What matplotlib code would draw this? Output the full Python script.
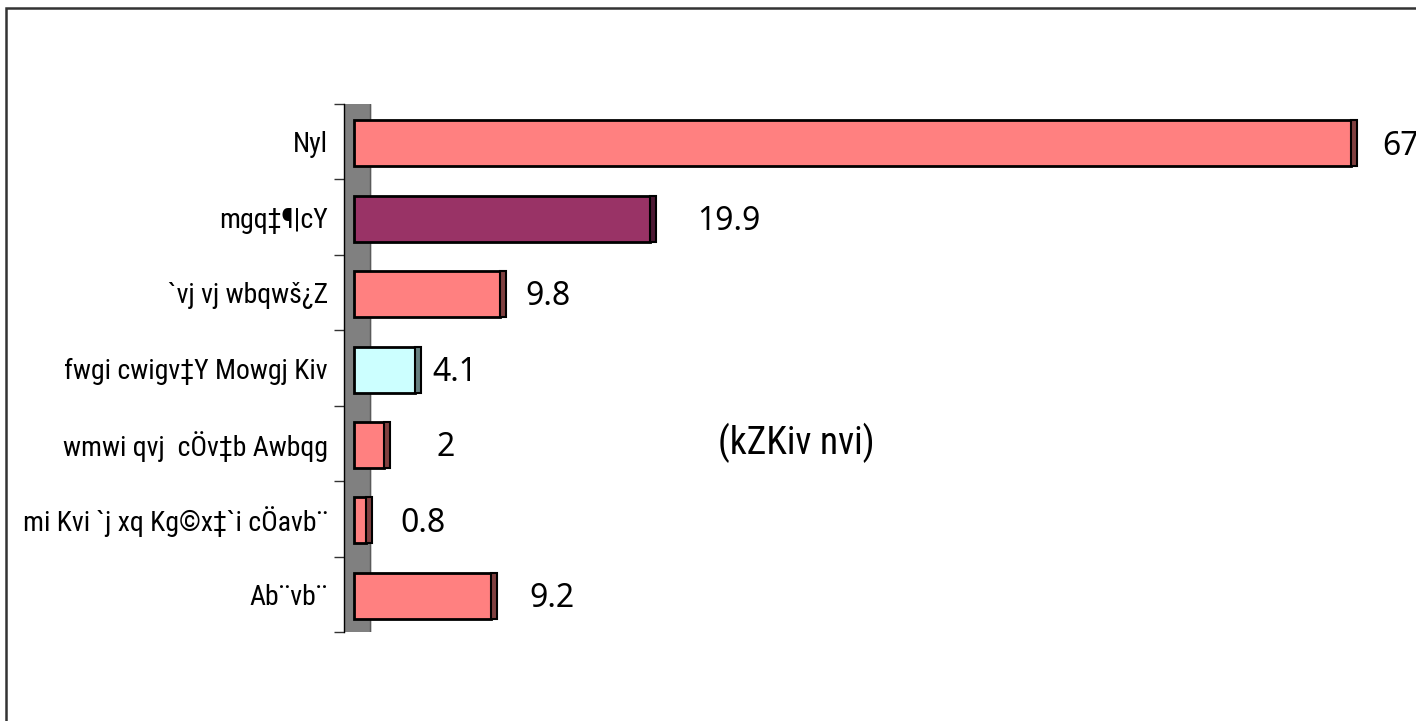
import matplotlib
matplotlib.use('Agg')
import matplotlib.pyplot as plt
from matplotlib import font_manager
from matplotlib.font_manager import FontProperties
from matplotlib.ft2font import FT2Font
from matplotlib.patches import Rectangle

# data (top to bottom)
categories = ['Nyl', 'mgq‡¶|cY', '`vj vj wbqwš¿Z', 'fwgi cwigv‡Y Mowgj Kiv',
              'wmwi qvj  cÖv‡b Awbqg', 'mi Kvi `j xq Kg©x‡`i cÖavb¨', 'Ab¨vb¨']
values = [67, 19.9, 9.8, 4.1, 2, 0.8, 9.2]
value_labels = ['67', '19.9', '9.8', '4.1', '2', '0.8', '9.2']
unit_label = '(kZKiv nvi)'

# styling
face_colors = ['#FF8080', '#993366', '#FF8080', '#CCFFFF', '#FF8080', '#FF8080', '#FF8080']
side_colors = ['#804040', '#4D1933', '#804040', '#668080', '#804040', '#804040', '#804040']
label_gap_px = [25, 41, 20, 11, 47, 28, 32]  # data labels were hand placed in the original

W, H = 1416, 721
fig = plt.figure(figsize=(W / 100, H / 100), dpi=100)
renderer = fig.canvas.get_renderer()

# plain sans families only, so no all-caps display faces sneak in
SANS = {'Liberation Sans Narrow', 'Liberation Sans', 'DejaVu Sans', 'Roboto', 'Roboto Condensed',
        'Open Sans', 'Open Sans Condensed', 'Noto Sans', 'Noto Sans Display', 'Lato', 'Inter'}


def text_width(s, prop, size):
    t = fig.text(0, 0, s, fontproperties=prop, fontsize=size)
    w = t.get_window_extent(renderer).width
    t.remove()
    return w


def pick_narrow_font(sample):
    """Narrowest regular sans face that has every glyph of the labels."""
    chars = set(''.join(categories) + unit_label) - {' '}
    best, best_w = FontProperties(family='DejaVu Sans'), None
    seen = set()
    for f in font_manager.fontManager.ttflist:
        if f.name not in SANS or f.style != 'normal' or f.weight not in (400, 'normal'):
            continue
        if f.fname in seen:
            continue
        seen.add(f.fname)
        try:
            ft = FT2Font(f.fname)
            if any(ft.get_char_index(ord(c)) == 0 for c in chars):
                continue
        except Exception:
            continue
        prop = FontProperties(fname=f.fname)
        w = text_width(sample, prop, 20)
        if best_w is None or w < best_w:
            best, best_w = prop, w
    return best


longest = max(categories, key=len)
narrow = pick_narrow_font(longest)

# shrink the category font until the longest label fits left of the axis (about 310 px)
cat_size = 20
while cat_size > 8 and text_width(longest, narrow, cat_size) > 312:
    cat_size -= 0.5

unit_size = 27
while unit_size > 8 and text_width(unit_label, narrow, unit_size) > 175:
    unit_size -= 0.5

px_per_unit = 14.88
ax_left, ax_top, ax_bottom = 344, 104, 632
ax = fig.add_axes([ax_left / W, 1 - ax_bottom / H, (W - ax_left) / W, (ax_bottom - ax_top) / H])
x0 = -(354 - ax_left) / px_per_unit
ax.set_xlim(x0, x0 + (W - ax_left) / px_per_unit)
n = len(categories)
ax.set_ylim(n - 0.5, -0.5)

# grey wall of the old 3d chart
wall_right = (370 - 354) / px_per_unit
ax.axvspan(x0, wall_right, color='#808080', zorder=0)
ax.axvline(wall_right, color='#5a5a5a', lw=1, zorder=0)

pos = [i + 0.02 for i in range(n)]
bar_h = 0.61
side_w = 6 / px_per_unit
ax.barh(pos, values, height=bar_h, color=face_colors, edgecolor='black', lw=2, zorder=3)
ax.barh(pos, [side_w] * n, left=values, height=bar_h, color=side_colors,
        edgecolor='black', lw=1.5, zorder=3)

for i in range(n):
    ax.annotate(value_labels[i], (values[i] + side_w, pos[i]),
                xytext=(label_gap_px[i] * 0.72, -2), textcoords='offset points',
                ha='left', va='center', fontsize=23, family='Noto Sans', annotation_clip=False)

# category ticks
ax.set_yticks([i - 0.5 for i in range(n + 1)])
ax.set_yticklabels([])
ax.tick_params(axis='y', which='major', length=7.2, width=1, color='#333333', direction='out')
ax.set_yticks(range(n), minor=True)
ax.set_yticklabels(categories, minor=True, fontproperties=narrow, fontsize=cat_size)
ax.tick_params(axis='y', which='minor', length=0, pad=11.5)

ax.xaxis.set_visible(False)
for s in ['top', 'right', 'bottom']:
    ax.spines[s].set_visible(False)
ax.spines['left'].set_color('black')
ax.spines['left'].set_linewidth(1)
ax.patch.set_visible(False)

fig.text(796 / W, 1 - 443 / H, unit_label, ha='center', va='center',
         fontproperties=narrow, fontsize=unit_size)

# outer chart frame, runs off the right and bottom of the image
fig.patches.append(Rectangle((6 / W, -0.2), 1.5, 1 - 8 / H + 0.2, transform=fig.transFigure,
                             fill=False, edgecolor='#333333', lw=1.8))

fig.savefig('out.png', dpi=100)
